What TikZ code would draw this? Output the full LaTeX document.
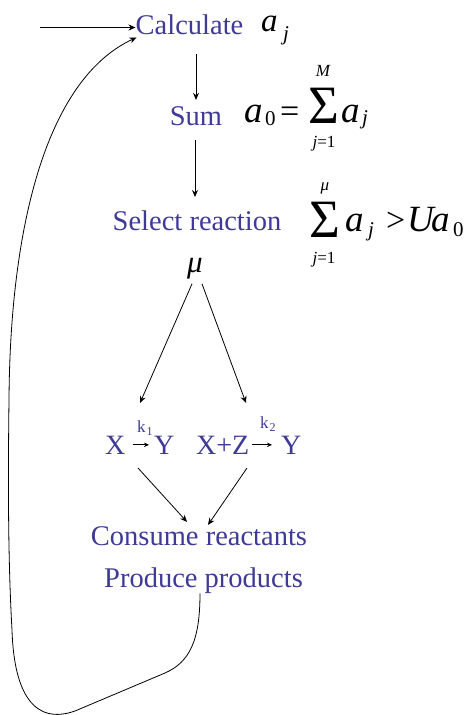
\documentclass[tikz,border=0pt]{standalone}
\usepackage{fontspec}
\setmainfont{Liberation Serif}
\usetikzlibrary{arrows.meta}
\definecolor{txtblue}{RGB}{62,58,150}
\newcommand\fsz[1]{\fontsize{#1}{#1}\selectfont}
\begin{document}
\begin{tikzpicture}[x=1pt,y=-1pt,
  lbl/.style={text=txtblue,font=\fsz{28.5},inner sep=0pt},
  mth/.style={font=\fsz{37}\itshape,inner sep=0pt},
  mthtop/.style={font=\fsz{33}\itshape,inner sep=0pt},
  mthup/.style={font=\fsz{34},inner sep=0pt},
  msub/.style={font=\fsz{21}\itshape,inner sep=0pt},
  msubup/.style={font=\fsz{21},inner sep=0pt},
  lim/.style={font=\fsz{17},inner sep=0pt},
  bigsum/.style={font=\fsz{54},inner sep=0pt,anchor=base},
  rx/.style={text=txtblue,font=\fsz{28},inner sep=0pt},
  kl/.style={text=txtblue,font=\fsz{17},inner sep=0pt},
  ks/.style={text=txtblue,font=\fsz{12},inner sep=0pt},
  arr/.style={-{Stealth[length=7pt,width=6pt]},line width=0.8pt},
  sarr/.style={-{Stealth[length=5pt,width=4.5pt]},line width=0.8pt},
  feed/.style={line width=0.8pt}]
\useasboundingbox (0,0) rectangle (469,715);

% main labels
\node[lbl,anchor=base] (calc) at (189.5,34) {Calculate};
\node[lbl,anchor=base] (sum) at (196,125) {Sum};
\node[lbl,anchor=base] (sel) at (197,230) {Select reaction};
\node[font=\fsz{31}\itshape,inner sep=0pt,anchor=base] (mu) at (195,272) {μ};
\node[lbl,anchor=base] (cons) at (199,545) {Consume reactants};
\node[lbl,anchor=base] (prod) at (203.5,587) {Produce products};

% a_j after Calculate
\node[mthtop,anchor=base west] (aj) at (261,31) {a};
\node[msub,anchor=base west] (ajs) at (283,40) {j};

% a_0 = sum_{j=1}^M a_j
\node[mth,anchor=base west] (e1a) at (244,122) {a};
\node[msubup,anchor=base west] (e1z) at (265,125) {0};
\node[mthup,anchor=base west] (e1eq) at (280,122) {=};
\node[bigsum] (e1s) at (323.5,123) {\scalebox{0.98}[1]{Σ}};
\node[lim,anchor=base] (e1M) at (323,76) {\itshape M};
\node[lim,anchor=base] (e1l) at (324,147) {\itshape j\upshape =1};
\node[mth,anchor=base west] (e1b) at (341,122) {a};
\node[msub,anchor=base west] (e1j) at (362,124) {j};

% sum_{j=1}^mu a_j > U a_0
\node[bigsum] (e2s) at (325,237) {\scalebox{0.98}[1]{Σ}};
\node[lim,anchor=base] (e2m) at (325,190) {\itshape μ};
\node[lim,anchor=base] (e2l) at (324,263) {\itshape j\upshape =1};
\node[mth,anchor=base west] (e2a) at (345,231) {a};
\node[msub,anchor=base west] (e2j) at (368,236) {j};
\node[mthup,anchor=base west] (e2gt) at (386,231) {>};
\node[mth,anchor=base west] (e2U) at (407,231) {U};
\node[mth,anchor=base west] (e2b) at (431,231) {a};
\node[msubup,anchor=base west] (e2z) at (453,236) {0};

% reactions
\node[rx,anchor=base west] (rX) at (105,454) {X};
\node[rx,anchor=base west] (rY) at (154,454) {Y};
\node[kl,anchor=base west] (k1) at (137,432) {k};
\node[ks,anchor=base west] (k1s) at (146.5,435) {1};
\node[rx,anchor=base west] (rXZ) at (196,454) {X+Z};
\node[rx,anchor=base west] (rY2) at (281,454) {Y};
\node[kl,anchor=base west] (k2) at (260,428) {k};
\node[ks,anchor=base west] (k2s) at (269.5,431) {2};

\coordinate (in) at (40,27.5);
\coordinate (r1top) at (140,403);
\coordinate (r2top) at (246,403);
\coordinate (r1bot) at (138,468);
\coordinate (r2bot) at (247,468);

% connectors
\draw[arr] (in) -- (calc.west |- in);
\draw[arr,shorten <=20pt,shorten >=6pt] (sum.north |- calc.south) -- (sum.north);
\draw[arr,shorten <=15pt,shorten >=13pt] ([xshift=-1pt]sum.south) -- ([xshift=-1pt]sum.south |- sel.north);
\draw[arr] ([shift={(-3,5)}]mu.south) -- (r1top);
\draw[arr] ([shift={(7,5)}]mu.south) -- (r2top);
\draw[sarr,shorten <=7pt,shorten >=5pt] (rX.east) -- (rY.west);
\draw[sarr,shorten <=2pt,shorten >=9pt] (rXZ.east) -- (rY2.west);
\draw[arr] (r1bot) -- ([shift={(-12,-4)}]cons.north);
\draw[arr] (r2bot) -- ([shift={(9,-1)}]cons.north);

% feedback loop
\draw[feed,-{Stealth[length=7pt,width=6pt]}] ([xshift=-3.5pt]prod.south)
  .. controls (200,640) and (190,662) .. (165,673)
  -- (75,711)
  .. controls (35,725) and (14,695) .. (12,630)
  .. controls (8,560) and (8,480) .. (9,400)
  .. controls (10,230) and (45,80) .. ([shift={(1,3)}]calc.south west);
\end{tikzpicture}
\end{document}
